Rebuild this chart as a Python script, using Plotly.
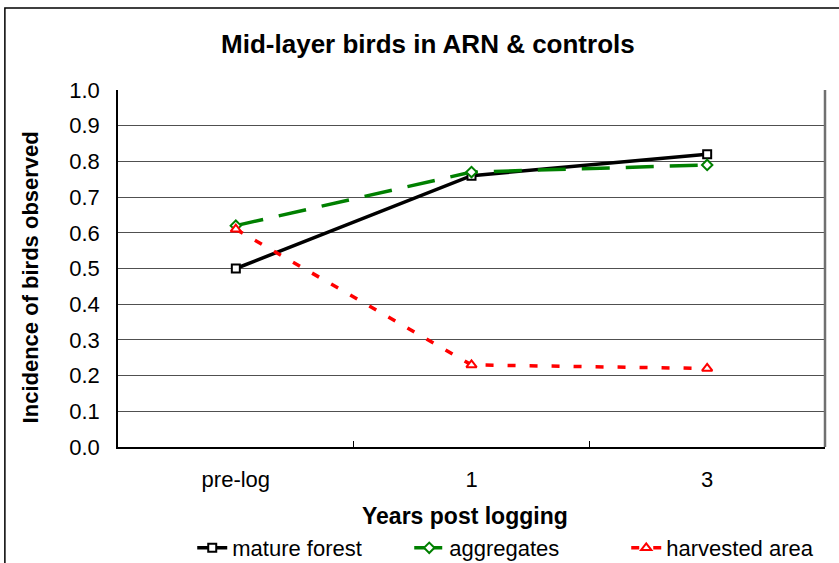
import plotly.graph_objects as go

categories = ["pre-log", "1", "3"]
mature_forest = [0.50, 0.76, 0.82]
aggregates = [0.62, 0.77, 0.79]
harvested_area = [0.61, 0.23, 0.22]
y_ticks = [0.0, 0.1, 0.2, 0.3, 0.4, 0.5, 0.6, 0.7, 0.8, 0.9, 1.0]

FONT = "Liberation Sans, Arial, sans-serif"

fig = go.Figure()

fig.add_trace(go.Scatter(
    x=categories, y=mature_forest, name="mature forest", mode="lines+markers",
    line=dict(color="black", width=3.5),
    marker=dict(symbol="square", size=8, color="white", line=dict(color="black", width=2)),
))
fig.add_trace(go.Scatter(
    x=categories, y=aggregates, name="aggregates", mode="lines+markers",
    line=dict(color="#008000", width=3.5, dash="28px,16px"),
    marker=dict(symbol="diamond", size=8, color="white", line=dict(color="#008000", width=2)),
))
fig.add_trace(go.Scatter(
    x=categories, y=harvested_area, name="harvested area", mode="lines+markers",
    line=dict(color="#ff0000", width=3.5, dash="8px,14px"),
    marker=dict(symbol="triangle-up", size=9, color="white", line=dict(color="#ff0000", width=2)),
))

# right edge of plot area (grey)
fig.add_shape(type="line", xref="paper", yref="paper", x0=1, x1=1, y0=0, y1=1,
              line=dict(color="#707070", width=2.5))
# outer chart frame (right and bottom edges fall outside the picture)
fig.add_shape(type="rect", xref="paper", yref="paper",
              x0=-0.16, x1=1.05, y0=-0.36, y1=1.23,
              line=dict(color="black", width=1.5))

# axis titles
fig.add_annotation(text="<b>Years post logging</b>", xref="paper", yref="paper",
                   x=0.491, y=-0.193, xanchor="center", yanchor="middle",
                   showarrow=False, font=dict(size=23))
fig.add_annotation(text="<b>Incidence of birds observed</b>", xref="paper", yref="paper",
                   x=-0.1245, y=0.475, xanchor="center", yanchor="middle", textangle=-90,
                   showarrow=False, font=dict(size=22))

fig.update_layout(
    width=839, height=563,
    margin=dict(l=118, r=14, t=90, b=116, autoexpand=False),
    paper_bgcolor="white", plot_bgcolor="white",
    font=dict(family=FONT, size=22, color="black"),
    title=dict(text="<b>Mid-layer birds in ARN &amp; controls</b>", x=0.51, xanchor="center",
               xref="container", y=1 - 44 / 563, yanchor="middle", yref="container",
               font=dict(size=26)),
    showlegend=True,
    legend=dict(orientation="h", x=0.105, xanchor="left", y=-0.283, yanchor="middle",
                font=dict(size=22), traceorder="normal", entrywidth=172),
)

fig.update_xaxes(
    type="category", range=[-0.5, 2.5], automargin=False,
    showline=True, linecolor="black", linewidth=1.5,
    ticks="inside", tickson="boundaries", ticklen=6, tickcolor="black",
    showgrid=False, tickfont=dict(size=22), ticklabelstandoff=12,
)
fig.update_yaxes(
    range=[0, 1.0], tickvals=y_ticks, ticktext=[f"{v:.1f}" for v in y_ticks],
    automargin=False,
    showline=True, linecolor="black", linewidth=1.5,
    showgrid=True, gridcolor="#505050", gridwidth=1,
    ticks="", tickfont=dict(size=22), zeroline=False, ticklabelstandoff=12,
)

fig.write_html("out.html", config={"displayModeBar": False},
               post_script="document.body.style.margin='0';")
